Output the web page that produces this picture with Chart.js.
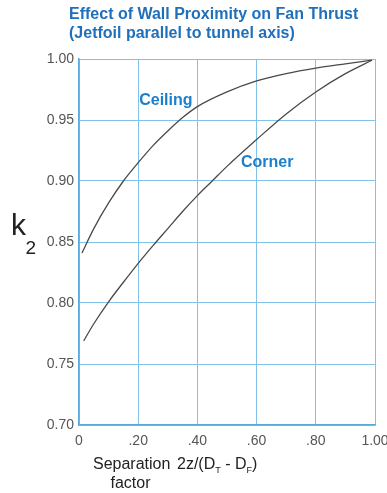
<!DOCTYPE html>
<html>
<head>
<meta charset="utf-8">
<script src="https://cdn.jsdelivr.net/npm/chart.js@4/dist/chart.umd.min.js"></script>
<style>
  html, body { margin: 0; padding: 0; background: #ffffff; }
  #wrap { width: 387px; height: 493px; position: relative; }
</style>
</head>
<body>
<div id="wrap"><canvas id="c" width="387" height="493"></canvas></div>
<script>
// Separation factor 2z/(DT - DF) sample positions and thrust factor k2
const ceilingX = [0.01, 0.05, 0.10, 0.15, 0.20, 0.25, 0.30, 0.35, 0.40, 0.50, 0.60, 0.70, 0.80, 0.90, 0.99];
const ceilingK = [0.841, 0.861, 0.882, 0.900, 0.915, 0.929, 0.941, 0.952, 0.961, 0.973, 0.982, 0.988, 0.9925, 0.996, 0.999];

const cornerX = [0.016, 0.05, 0.10, 0.15, 0.20, 0.25, 0.30, 0.35, 0.40, 0.45, 0.50, 0.60, 0.70, 0.80, 0.90, 0.99];
const cornerK = [0.769, 0.783, 0.801, 0.817, 0.8325, 0.847, 0.861, 0.875, 0.888, 0.900, 0.912, 0.934, 0.955, 0.973, 0.988, 0.999];

const xTickLabels = ['0', '.20', '.40', '.60', '.80', '1.00'];
const yTickLabels = ['0.70', '0.75', '0.80', '0.85', '0.90', '0.95', '1.00'];

const titleLines = ['Effect of Wall Proximity on Fan Thrust', '(Jetfoil parallel to tunnel axis)'];
const seriesNames = ['Ceiling', 'Corner'];

const FONT = "'Liberation Sans', Arial, sans-serif";
const BLUE_TITLE = '#1f6fba';
const BLUE_LABEL = '#1b7fcc';
const GRID = '#82c2e8';

function toPoints(xs, ys) { return xs.map((x, i) => ({ x: x, y: ys[i] })); }

const annotate = {
  id: 'annotate',
  afterDraw(chart) {
    const ctx = chart.ctx;
    const xs = chart.scales.x, ys = chart.scales.y;
    ctx.save();
    ctx.textBaseline = 'alphabetic';
    ctx.textAlign = 'left';

    // heading
    ctx.fillStyle = BLUE_TITLE;
    ctx.font = 'bold 16px ' + FONT;
    ctx.fillText(titleLines[0], 69, 18.5);
    ctx.fillText(titleLines[1], 69, 38);

    // curve names
    ctx.fillStyle = BLUE_LABEL;
    ctx.font = 'bold 16px ' + FONT;
    ctx.fillText(seriesNames[0], xs.getPixelForValue(0.20) + 1, ys.getPixelForValue(0.962));
    ctx.fillText(seriesNames[1], xs.getPixelForValue(0.547), ys.getPixelForValue(0.9115));

    // y axis symbol k2
    ctx.fillStyle = '#222222';
    ctx.font = '30px ' + FONT;
    ctx.fillText('k', 11, 235);
    ctx.font = '19px ' + FONT;
    ctx.fillText('2', 25.5, 253.5);

    // x axis caption
    ctx.font = '16px ' + FONT;
    ctx.fillText('Separation', 93, 468.5);
    ctx.fillText('factor', 110.5, 487.5);
    let x = 177;
    const base = 468.5;
    const part = (t, size, dy) => {
      ctx.font = size + 'px ' + FONT;
      ctx.fillText(t, x, base + dy);
      x += ctx.measureText(t).width;
    };
    part('2z/(D', 16, 0);
    part('T', 9, 4);
    part(' - D', 16, 0);
    part('F', 9, 4);
    part(')', 16, 0);
    ctx.restore();
  }
};

const lineStyle = {
  showLine: true,
  borderColor: '#4a4a4a',
  borderWidth: 1.3,
  pointRadius: 0,
  fill: false,
  cubicInterpolationMode: 'monotone'
};

new Chart(document.getElementById('c'), {
  type: 'scatter',
  data: {
    datasets: [
      Object.assign({ label: seriesNames[0], data: toPoints(ceilingX, ceilingK) }, lineStyle),
      Object.assign({ label: seriesNames[1], data: toPoints(cornerX, cornerK) }, lineStyle)
    ]
  },
  options: {
    responsive: false,
    animation: false,
    devicePixelRatio: 1,
    layout: { padding: { left: 0, right: 12, top: 59, bottom: 0 } },
    plugins: { legend: { display: false }, tooltip: { enabled: false } },
    scales: {
      x: {
        type: 'linear', min: 0, max: 1,
        afterFit(s) { s.height = 68; s.paddingLeft = 0; s.paddingRight = 0; },
        afterBuildTicks(s) { s.ticks = xTickLabels.map((t, i) => ({ value: i * 0.2 })); },
        ticks: {
          callback: (v, i) => xTickLabels[i],
          font: { family: FONT, size: 14 },
          color: '#555555',
          padding: 8,
          maxRotation: 0,
          autoSkip: false
        },
        grid: { color: GRID, lineWidth: 1, drawTicks: false },
        border: { color: '#5aa9dc', width: 1.5 }
      },
      y: {
        type: 'linear', min: 0.70, max: 1.00,
        afterFit(s) { s.width = 79; s.paddingTop = 0; s.paddingBottom = 0; },
        afterBuildTicks(s) { s.ticks = yTickLabels.map(t => ({ value: parseFloat(t) })); },
        ticks: {
          callback: (v, i) => yTickLabels[i],
          font: { family: FONT, size: 14 },
          color: '#555555',
          padding: 5,
          autoSkip: false
        },
        grid: { color: GRID, lineWidth: 1, drawTicks: false },
        border: { color: '#5aa9dc', width: 1.5 }
      }
    }
  },
  plugins: [annotate]
});
</script>
</body>
</html>
